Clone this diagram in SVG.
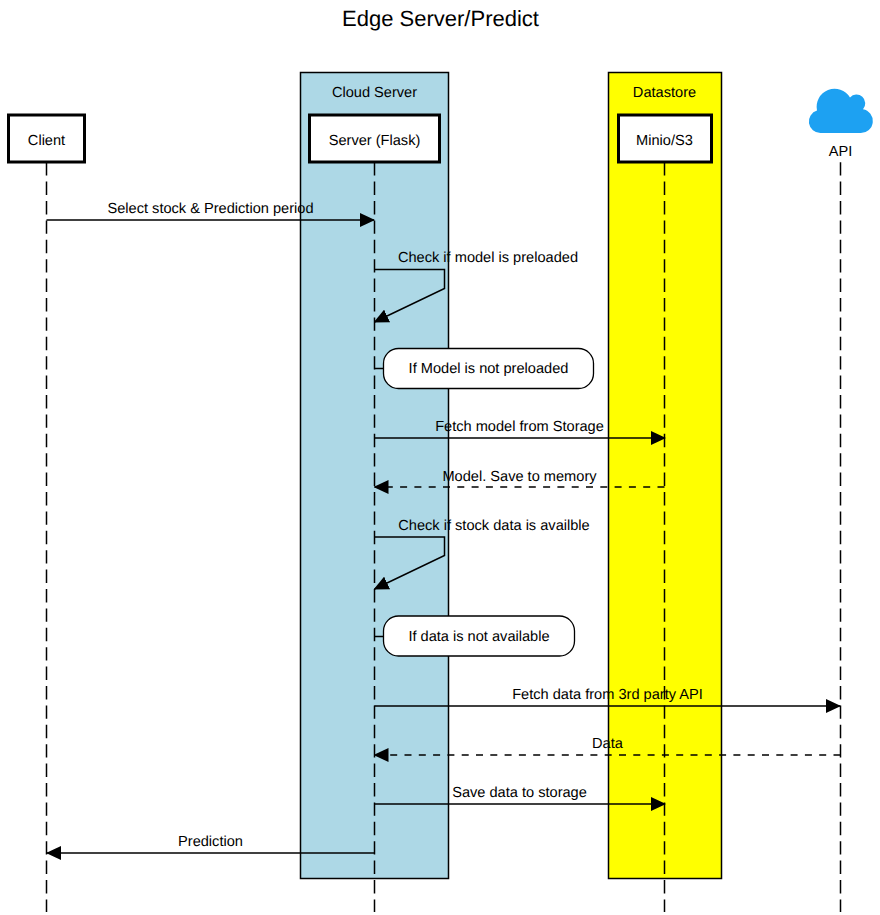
<svg xmlns="http://www.w3.org/2000/svg" width="880" height="915" viewBox="0 0 880 915">
<style>
text{font-family:"Liberation Sans",Arial,sans-serif;font-size:14.6px;fill:#000;text-anchor:middle;text-rendering:geometricPrecision}
.title{font-size:22px}
.life{fill:none;stroke:#000;stroke-width:1.5;stroke-dasharray:13.4 6}
.msg{fill:none;stroke:#000;stroke-width:1.5;marker-end:url(#arrow)}
.dash{stroke-dasharray:7 7.3}
.box{fill:#fff;stroke:#000;stroke-width:3}
.group{stroke:#000;stroke-width:1.5}
.note{fill:#fff;stroke:#000;stroke-width:1.3}
.plain{fill:none;stroke:#000;stroke-width:1.5}
</style>
<defs>
<marker id="arrow" viewBox="0 0 15 14" refX="14" refY="7" markerWidth="15" markerHeight="14" markerUnits="userSpaceOnUse" orient="auto"><path d="M0 0L15 7L0 14Z" fill="#000"/></marker>
</defs>
<rect width="880" height="915" fill="#fff"/>
<text class="title" x="440.500" y="26">Edge Server/Predict</text>
<g id="group-cloud"><rect class="group" x="300.500" y="72.500" width="148" height="806" fill="#add8e6"/><text x="374.500" y="97">Cloud Server</text></g>
<g id="group-datastore"><rect class="group" x="608.500" y="72.500" width="113" height="806" fill="#ffff00"/><text x="664.500" y="97">Datastore</text></g>
<g id="lifelines">
<path class="life" d="M46.500 162.200V912"/><path class="life" d="M374.500 162.200V912"/><path class="life" d="M664.500 162.200V912"/><path class="life" d="M840.500 162.200V912"/>
</g>
<g id="node-client"><rect class="box" x="8.500" y="115" width="76" height="47"/><text x="46.500" y="145">Client</text></g>
<g id="node-server"><rect class="box" x="309.500" y="115" width="130" height="47"/><text x="374.500" y="145">Server (Flask)</text></g>
<g id="node-minio"><rect class="box" x="618.500" y="115" width="93" height="47"/><text x="664.500" y="145">Minio/S3</text></g>
<g id="node-api"><path d="M820.500 133A11.500 11.500 0 0 1 817 110.500A18 18 0 0 1 850 97.500A8.500 8.500 0 0 1 863 109.200A12 12 0 0 1 860.700 133Z" fill="#1da1f2"/><text x="840.500" y="156">API</text></g>
<g id="connectors">
<path class="msg" d="M46.500 220H374"/>
<path class="msg" d="M374.500 269.500H444.500V288.500L374.500 322"/>
<path class="plain" d="M374.500 368.500H383"/>
<path class="msg" d="M374.500 438H665"/>
<path class="msg dash" d="M664.500 487H374.500"/>
<path class="msg" d="M374.500 537H444.500V555.500L374.500 589"/>
<path class="plain" d="M374.500 636.500H383"/>
<path class="msg" d="M374.500 706H840"/>
<path class="msg dash" d="M840.500 755H374.500"/>
<path class="msg" d="M374.500 804H665"/>
<path class="msg" d="M374.500 853H47"/>
</g>
<g id="labels">
<text x="210.500" y="213">Select stock &amp; Prediction period</text>
<text x="488" y="262">Check if model is preloaded</text>
<text x="519.500" y="431">Fetch model from Storage</text>
<text x="519.500" y="481">Model. Save to memory</text>
<text x="494" y="530">Check if stock data is availble</text>
<text x="607.500" y="699">Fetch data from 3rd party API</text>
<text x="607.500" y="748">Data</text>
<text x="519.500" y="797">Save data to storage</text>
<text x="210.500" y="846">Prediction</text>
</g>
<g id="note-model"><rect class="note" x="383.500" y="348.500" width="210" height="40" rx="15"/><text x="488.500" y="373">If Model is not preloaded</text></g>
<g id="note-data"><rect class="note" x="383.500" y="616" width="191" height="40" rx="15"/><text x="479" y="641">If data is not available</text></g>
</svg>
